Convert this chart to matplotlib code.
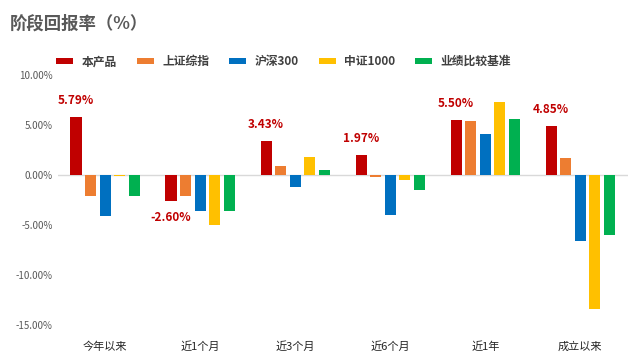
import numpy as np
import matplotlib
matplotlib.use('Agg')
import matplotlib.pyplot as plt

plt.rcParams['font.family'] = ['Noto Sans CJK SC', 'DejaVu Sans']

categories = ['今年以来', '近1个月', '近3个月', '近6个月', '近1年', '成立以来']
series_names = ['本产品', '上证综指', '沪深300', '中证1000', '业绩比较基准']
product = [5.79, -2.60, 3.43, 1.97, 5.50, 4.85]
sse = [-2.12, -2.12, 0.85, -0.22, 5.38, 1.67]
csi300 = [-4.12, -3.62, -1.22, -3.96, 4.08, -6.56]
csi1000 = [-0.15, -5.03, 1.77, -0.52, 7.29, -13.35]
benchmark = [-2.12, -3.62, 0.47, -1.52, 5.59, -6.03]
colors = ['#C00000', '#ED7D31', '#0070C0', '#FFC000', '#00B050']

fig = plt.figure(figsize=(6.4, 3.61), dpi=100)
ax = fig.add_axes([0.09, 0.0997, 0.891, 0.6926])

x = np.arange(len(categories))
step = 0.153
width = 0.118
all_series = [product, sse, csi300, csi1000, benchmark]
handles = []
for i, (vals, c, name) in enumerate(zip(all_series, colors, series_names)):
    b = ax.bar(x + (i - 2) * step, vals, width, color=c, label=name, zorder=3)
    handles.append(b)

# value labels for the product
for xi, v in zip(x, product):
    off = 1.0 if v >= 0 else -1.0
    ax.text(xi - 2 * step, v + off, f'{v:.2f}%', ha='center',
            va='bottom' if v >= 0 else 'top', color='#C00000',
            fontsize=8.5, fontweight='bold')

ax.axhline(0, color='#D9D9D9', lw=1, zorder=2)
ax.set_ylim(-15, 10)
ax.set_xlim(-0.5, len(categories) - 0.5)
ax.set_yticks([10, 5, 0, -5, -10, -15])
ax.set_yticklabels([f'{t:.2f}%' for t in [10, 5, 0, -5, -10, -15]],
                   color='#595959', fontsize=7)
ax.set_xticks(x)
ax.set_xticklabels(categories, fontsize=8, color='#262626')
ax.tick_params(length=0)
ax.tick_params(axis='x', pad=12)
for s in ax.spines.values():
    s.set_visible(False)

fig.text(0.015, 0.935, '阶段回报率（%）', fontsize=12.5, fontweight='bold',
         color='#595959', va='center')

fig.legend(handles=handles, labels=series_names, loc='center',
           bbox_to_anchor=(0.443, 0.829), ncol=5, frameon=False,
           handlelength=1.45, handleheight=0.5,
           columnspacing=1.7, handletextpad=0.7,
           prop={'weight': 'bold', 'size': 8.5})
for t in fig.legends[0].get_texts():
    t.set_color('#404040')

fig.savefig('out.png', dpi=100)
